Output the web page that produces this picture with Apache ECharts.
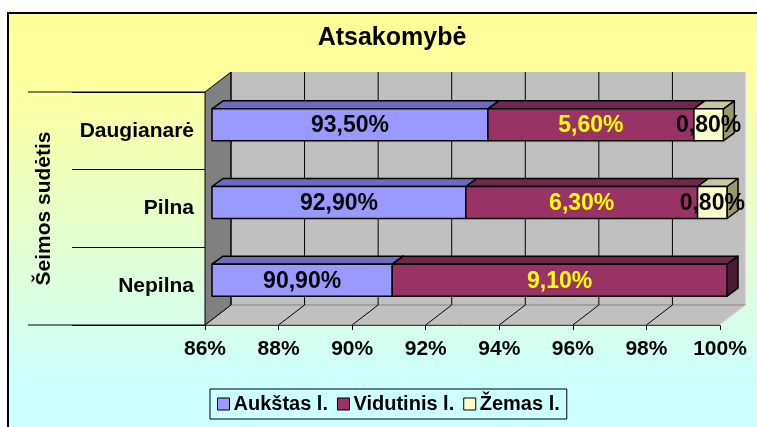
<!DOCTYPE html>
<html>
<head>
<meta charset="utf-8">
<script src="https://cdn.jsdelivr.net/npm/echarts@6/dist/echarts.min.js"></script>
<style>
  html, body { margin: 0; padding: 0; background: #fff; }
  #chart { width: 757px; height: 427px; }
</style>
</head>
<body>
<div id="chart"></div>
<script>
  // duomenys (nuo apačios į viršų)
  const categories = ['Nepilna', 'Pilna', 'Daugianarė'];
  const aukstas = [90.9, 92.9, 93.5];
  const vidutinis = [9.1, 6.3, 5.6];
  const zemas = [0, 0.8, 0.8];
  const seriesNames = ['Aukštas l.', 'Vidutinis l.', 'Žemas l.'];
  const xTicks = [86, 88, 90, 92, 94, 96, 98, 100];

  const font = 'Arial, "Liberation Sans", sans-serif';
  const WX = 26, WY = -20;      // sienos gylis
  const BX = 7, BY = -6;        // stulpelio poslinkis
  const DX = 11, DY = -8;       // stulpelio gylis
  const BAR_H = 32;

  const xMin = xTicks[0];

  function fmt(v) {
    return v.toFixed(2).replace('.', ',') + '%';
  }

  function stackData(values, prev) {
    const out = [];
    values.forEach((v, i) => {
      const start = prev[i];
      const end = start + v;
      prev[i] = end;
      if (v > 0) out.push([i, Math.max(start, xMin), end, v]);
    });
    return out;
  }
  const acc = categories.map(() => 0);
  const dAukstas = stackData(aukstas, acc);
  const dVidutinis = stackData(vidutinis, acc);
  const dZemas = stackData(zemas, acc);

  function barRenderer(front, top, side, labelColor) {
    return function (params, api) {
      const cat = api.value(0);
      const a = api.coord([api.value(1), cat]);
      const b = api.coord([api.value(2), cat]);
      const x0 = a[0] + BX, x1 = b[0] + BX, yc = a[1] + BY;
      const y0 = yc - BAR_H / 2, y1 = yc + BAR_H / 2;
      const line = { stroke: '#000', lineWidth: 1.5, lineJoin: 'round' };
      return {
        type: 'group',
        children: [
          { type: 'polygon', shape: { points: [[x1, y0], [x1 + DX, y0 + DY], [x1 + DX, y1 + DY], [x1, y1]] },
            style: Object.assign({ fill: side }, line) },
          { type: 'polygon', shape: { points: [[x0, y0], [x0 + DX, y0 + DY], [x1 + DX, y0 + DY], [x1, y0]] },
            style: Object.assign({ fill: top }, line) },
          { type: 'rect', shape: { x: x0, y: y0, width: x1 - x0, height: y1 - y0 },
            style: Object.assign({ fill: front }, line) },
          { type: 'text', z2: 10, style: { text: fmt(api.value(3)), x: (x0 + x1) / 2, y: yc + 1,
            align: 'center', verticalAlign: 'middle', fill: labelColor,
            font: 'bold 23px ' + font } }
        ]
      };
    };
  }

  function wallRenderer(params, api) {
    const cs = params.coordSys;
    const left = cs.x, right = cs.x + cs.width, topY = cs.y, bottom = cs.y + cs.height;
    const x = api.coord([api.value(0), 0])[0];
    const children = [];
    if (params.dataIndex === 0) {
      children.push(
        { type: 'rect', shape: { x: left + WX, y: topY + WY, width: cs.width, height: cs.height },
          style: { fill: '#C0C0C0' } },
        { type: 'line', shape: { x1: right + WX, y1: topY + WY, x2: right + WX, y2: bottom + WY },
          style: { stroke: '#E8E8E8', lineWidth: 1.5 } },
        { type: 'polygon', shape: { points: [[left, topY], [left + WX, topY + WY], [left + WX, bottom + WY], [left, bottom]] },
          style: { fill: '#808080', stroke: '#000', lineWidth: 1 } },
        { type: 'polygon', shape: { points: [[left, bottom], [right, bottom], [right + WX, bottom + WY], [left + WX, bottom + WY]] },
          style: { fill: '#C0C0C0', stroke: '#808080', lineWidth: 1 } },
        { type: 'line', shape: { x1: right, y1: bottom, x2: right + WX, y2: bottom + WY },
          style: { stroke: '#E8E8E8', lineWidth: 1.5 } },
        { type: 'line', shape: { x1: left - 177, y1: bottom, x2: left, y2: bottom },
          style: { stroke: '#000', lineWidth: 1 } },
        { type: 'line', shape: { x1: left - 177, y1: topY, x2: left, y2: topY },
          style: { stroke: '#000', lineWidth: 1 } }
      );
    }
    if (api.value(0) < xTicks[xTicks.length - 1]) {
      children.push(
        { type: 'line', shape: { x1: x + WX, y1: topY + WY, x2: x + WX, y2: bottom + WY },
          style: { stroke: '#000', lineWidth: 1 } },
        { type: 'line', shape: { x1: x, y1: bottom, x2: x + WX, y2: bottom + WY },
          style: { stroke: '#000', lineWidth: 1 } }
      );
    }
    return { type: 'group', children: children };
  }

  const chart = echarts.init(document.getElementById('chart'));
  const option = {
    backgroundColor: '#fff',
    animation: false,
    graphic: [{
      type: 'rect', left: 7, top: 12, z: -10, silent: true,
      shape: { width: 780, height: 440 },
      style: {
        fill: new echarts.graphic.LinearGradient(0, 0, 0, 1, [
          { offset: 0, color: '#FFFF99' },
          { offset: 0.15, color: '#FFFF9E' },
          { offset: 0.85, color: '#CCFFFF' },
          { offset: 1, color: '#CCFFFF' }
        ]),
        stroke: '#000', lineWidth: 2
      }
    }],
    title: {
      text: 'Atsakomybė',
      left: 387, top: 21, textAlign: 'center',
      textStyle: { fontFamily: font, fontSize: 25, fontWeight: 'bold', color: '#000' }
    },
    legend: {
      left: 210, top: 389,
      data: seriesNames,
      icon: 'rect', itemWidth: 12, itemHeight: 12, itemGap: 9,
      padding: [5, 7, 5, 7],
      borderColor: '#000', borderWidth: 1,
      itemStyle: { borderColor: '#000', borderWidth: 1 },
      textStyle: { fontFamily: font, fontSize: 20, fontWeight: 'bold', color: '#000', padding: [0, 0, 0, -1] }
    },
    grid: { left: 205, top: 92, right: 37, bottom: 102 },
    xAxis: {
      type: 'value',
      min: xTicks[0], max: xTicks[xTicks.length - 1], interval: xTicks[1] - xTicks[0],
      axisLine: { show: true, lineStyle: { color: '#000', width: 1 } },
      axisTick: { show: true, length: 5, lineStyle: { color: '#000' } },
      splitLine: { show: false },
      axisLabel: {
        margin: 14, color: '#000', fontFamily: font, fontSize: 21, fontWeight: 'bold',
        formatter: v => v + '%'
      }
    },
    yAxis: {
      type: 'category',
      data: categories,
      name: 'Šeimos sudėtis',
      nameLocation: 'middle', nameRotate: 90, nameGap: 150,
      nameTextStyle: { fontFamily: font, fontSize: 21, fontWeight: 'bold', color: '#000' },
      axisLine: { show: true, lineStyle: { color: '#000', width: 1 } },
      axisTick: { show: true, length: 133, lineStyle: { color: '#000' } },
      axisLabel: { margin: 11, color: '#000', fontFamily: font, fontSize: 21, fontWeight: 'bold' }
    },
    series: [
      {
        type: 'custom', name: 'walls', z: 1, silent: true, clip: false,
        data: xTicks.map(t => [t]),
        encode: { x: 0 },
        renderItem: wallRenderer
      },
      {
        type: 'custom', name: seriesNames[0], z: 3, clip: false,
        itemStyle: { color: '#9999FF' },
        data: dAukstas, encode: { x: [1, 2], y: 0 },
        renderItem: barRenderer('#9999FF', '#6B6BC2', '#4D4D80', '#000')
      },
      {
        type: 'custom', name: seriesNames[1], z: 4, clip: false,
        itemStyle: { color: '#993366' },
        data: dVidutinis, encode: { x: [1, 2], y: 0 },
        renderItem: barRenderer('#993366', '#73264D', '#4D1A33', '#FFFF00')
      },
      {
        type: 'custom', name: seriesNames[2], z: 5, clip: false,
        itemStyle: { color: '#FFFFCC' },
        data: dZemas, encode: { x: [1, 2], y: 0 },
        renderItem: barRenderer('#FFFFCC', '#C8C8A0', '#99996B', '#000')
      }
    ]
  };
  chart.setOption(option);
</script>
</body>
</html>
